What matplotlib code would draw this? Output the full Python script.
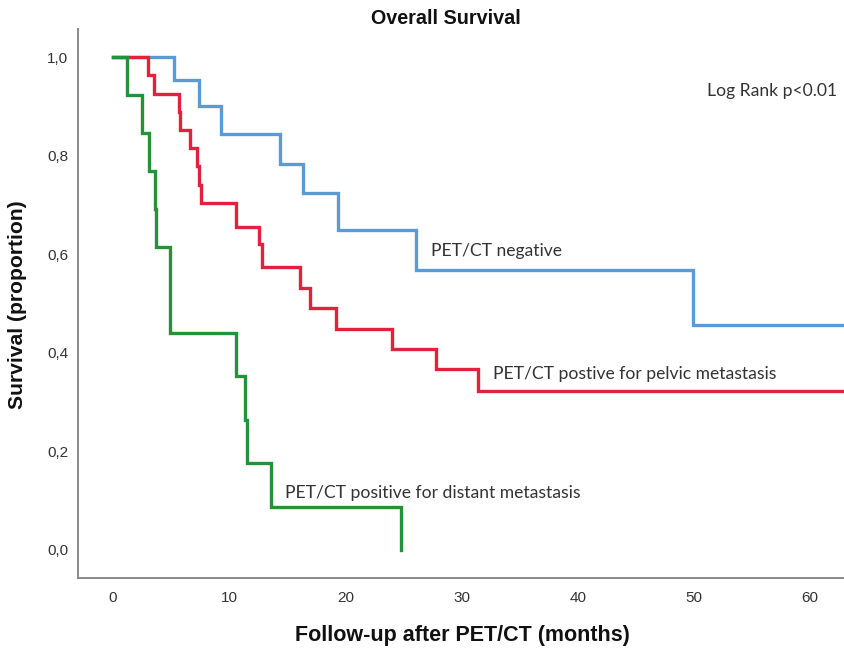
import matplotlib
matplotlib.use("Agg")
import matplotlib.pyplot as plt

# ---- data ----
neg_t = [0, 5.3, 7.4, 9.3, 14.4, 16.4, 19.4, 26.1, 49.9, 63.0]
neg_s = [1.0, 0.953, 0.900, 0.843, 0.783, 0.724, 0.650, 0.568, 0.456, 0.456]

pel_t = [0, 3.0, 3.5, 5.65, 5.8, 6.6, 7.25, 7.45, 7.6, 10.6, 12.55, 12.8,
         16.1, 17.0, 19.2, 24.0, 27.8, 31.4, 63.0]
pel_s = [1.0, 0.963, 0.926, 0.889, 0.852, 0.815, 0.778, 0.741, 0.704, 0.656,
         0.620, 0.574, 0.532, 0.491, 0.449, 0.408, 0.368, 0.323, 0.323]

dis_t = [0, 1.2, 2.5, 3.1, 3.6, 3.75, 4.9, 10.6, 11.4, 11.55, 13.6, 24.8]
dis_s = [1.0, 0.923, 0.846, 0.769, 0.692, 0.615, 0.440, 0.352, 0.264, 0.176,
         0.088, 0.0]

x_ticks = [0, 10, 20, 30, 40, 50, 60]
y_ticks = [0.0, 0.2, 0.4, 0.6, 0.8, 1.0]

title = "Overall Survival"
xlabel = "Follow-up after PET/CT (months)"
ylabel = "Survival (proportion)"
label_neg = "PET/CT negative"
label_pel = "PET/CT postive for pelvic metastasis"
label_dis = "PET/CT positive for distant metastasis"
logrank = "Log Rank p<0.01"

c_neg = "#5b9bd5"
c_pel = "#e2213f"
c_dis = "#25923a"

plt.rcParams['font.family'] = ['Liberation Sans', 'DejaVu Sans']

fig = plt.figure(figsize=(8.45, 6.5), dpi=100)
ax = fig.add_axes([78/845, (650-578)/650, 1 - 78/845, (578-29)/650])

lw = 2.4
ax.step(neg_t, neg_s, where='post', color=c_neg, lw=lw, solid_joinstyle='miter')
ax.step(pel_t, pel_s, where='post', color=c_pel, lw=lw, solid_joinstyle='miter')
ax.step(dis_t, dis_s, where='post', color=c_dis, lw=lw, solid_joinstyle='miter')

ax.set_xlim(-3.0, 63.0)
ax.set_ylim(-0.057, 1.057)
ax.set_xticks(x_ticks)
ax.set_xticklabels([str(v) for v in x_ticks])
ax.set_yticks(y_ticks)
ax.set_yticklabels([f"{v:.1f}".replace('.', ',') for v in y_ticks])
ax.tick_params(axis='both', length=0, labelsize=11, colors='#333333')
ax.tick_params(axis='y', pad=7)
ax.tick_params(axis='x', pad=9)

for s in ['top', 'right']:
    ax.spines[s].set_visible(False)
for s in ['left', 'bottom']:
    ax.spines[s].set_color('#8a8a8a')
    ax.spines[s].set_linewidth(1.4)

fig.text(446/845, 1 - 18/650, title, ha='center', va='center',
         fontsize=14.2, fontweight='bold', color='#111111')
fig.text(462.5/845, 1 - 635/650, xlabel, ha='center', va='center',
         fontsize=15.5, fontweight='bold', color='#111111')
fig.text(18/845, 1 - 305/650, ylabel, ha='center', va='center', rotation=90,
         fontsize=15.2, fontweight='bold', color='#111111')

afont = dict(family=['Lato', 'DejaVu Sans'], fontsize=12.6, color='#333333')
ax.text(27.4, 0.606, label_neg, ha='left', va='center', **afont)
ax.text(32.7, 0.357, label_pel, ha='left', va='center', **afont)
ax.text(14.8, 0.116, label_dis, ha='left', va='center', **afont)
ax.text(62.3, 0.931, logrank, ha='right', va='center', **afont)

fig.savefig("out.png", dpi=100)
